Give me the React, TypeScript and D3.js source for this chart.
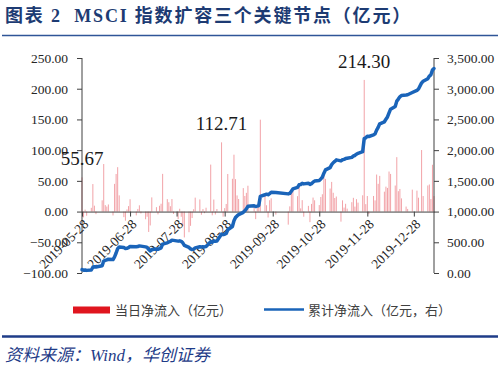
import React, { useEffect, useRef } from 'react';
import * as d3 from 'd3';

// trading days: weekdays between these dates minus Stock Connect holidays
const firstDay = '2019-05-28';
const lastDay = '2020-01-10';
const holidays = [
  '2019-06-07', '2019-07-01', '2019-09-13',
  '2019-10-01', '2019-10-02', '2019-10-03', '2019-10-04', '2019-10-07',
  '2019-12-25', '2019-12-26', '2020-01-01'
];

// daily northbound net inflow (亿元), one value per trading day, by month
const flowMay = [55.67, -9.4, 3.2, -6.8];
const flowJun = [6.1, 44.8, 9.6, -4.2, 18.3, 77.4, 10.5, 8.2, 11.6, -6.3, 45.1, 61.2, 72.3, 26.4, -9.1, -14.8, 3.5, 8.9, 20.1];
const flowJul = [-6.2, 4.3, 10.2, -3.1, -12.5, -8.4, -33.2, -22.6, 23.1, 7.2, -4.6, 9.5, 12.8, 61.4, 20.3, 15.2, 8.7, 20.4, -3.8, -12.3, 4.6, -8.5];
const flowAug = [-23.4, -42.1, -33.6, -23.2, -10.5, 3.8, 22.7, 19.8, -5.2, 4.1, -2.6, 6.3, 76.5, -6.1, 19.6, -4.8, 4.2, 112.71, -8.3, 5.6, 12.4, 61.2];
const flowSep = [53.4, 92.6, 52.8, 26.3, 20.5, 38.2, 25.4, 30.5, 42.1, 8.6, -12.3, 6.2, 10.4, 149.6, 25.2, 10.3, -9.6, 18.5, 21.6, -4.9];
const flowOct = [-21.3, 8.5, 34.2, 37.4, 25.1, 42.3, 5.2, 18.6, -8.4, 9.3, -17.2, 12.5, 22.8, 18.4, 10.6, 23.7, 28.2, 66.1];
const flowNov = [53.2, 37.5, 48.3, 30.6, 22.1, 24.5, -16.4, 18.3, 6.5, 12.7, 4.8, 15.3, 22.4, 8.1, 20.2, 14.6, 26.5, 214.30, 12.1, 25.3, -4.2];
const flowDec = [25.4, 18.2, 60.3, 45.2, 58.1, 32.4, 40.6, 38.5, 65.2, 61.3, 42.4, 88.6, 33.2, 36.8, 21.5, 8.2, 4.3, 35.7, 34.1, 22.6];
const flowJan = [100.2, 25.3, 42.5, 44.1, 20.4, 76.2, 25.3];

const leftTicks = [-100, -50, 0, 50, 100, 150, 200, 250];
const rightTicks = [0, 500, 1000, 1500, 2000, 2500, 3000, 3500];
const dateTicks = ['2019-05-28', '2019-06-28', '2019-07-28', '2019-08-28', '2019-09-28', '2019-10-28', '2019-11-28', '2019-12-28'];
const keyDays = ['2019-05-28', '2019-08-26', '2019-11-26'];

const titleText = '图表 2  MSCI 指数扩容三个关键节点（亿元）';
const legendLabels = ['当日净流入（亿元）', '累计净流入（亿元，右）'];
const sourceText = '资料来源：Wind，华创证券';

const W = 500, H = 368;
const serif = '"Liberation Serif", "Times New Roman", "Noto Sans CJK SC", serif';
const cjk = '"Noto Sans CJK SC", "Liberation Serif", sans-serif';

export default function App() {
  const ref = useRef<SVGSVGElement>(null);

  useEffect(() => {
    const svg = d3.select(ref.current);
    svg.selectAll('*').remove();

    const parse = d3.utcParse('%Y-%m-%d');
    const fmt = d3.utcFormat('%Y-%m-%d');
    const start = parse(firstDay)!, end = parse(lastDay)!;
    const days = d3.utcDays(start, d3.utcDay.offset(end, 1))
      .filter(d => d.getUTCDay() > 0 && d.getUTCDay() < 6 && !holidays.includes(fmt(d)));
    const daily = [...flowMay, ...flowJun, ...flowJul, ...flowAug, ...flowSep, ...flowOct, ...flowNov, ...flowDec, ...flowJan];
    const cum = Array.from(d3.cumsum(daily));
    const data = days.map((d, i) => ({ date: d, flow: daily[i], total: cum[i] }));

    const x = d3.scaleUtc().domain([start, end]).range([82, 434]);
    const yL = d3.scaleLinear().domain([-100, 250]).range([273, 58]);
    const yR = d3.scaleLinear().domain([0, 3500]).range([273, 58]);

    // title
    svg.append('text').attr('x', 5).attr('y', 22)
      .attr('font-family', serif).attr('font-weight', 'bold').attr('font-size', 18)
      .attr('letter-spacing', 1.8).attr('fill', '#1d3b73')
      .style('white-space', 'pre').text(titleText);
    svg.append('line').attr('x1', 2).attr('x2', 498).attr('y1', 35.5).attr('y2', 35.5)
      .attr('stroke', '#2f5597').attr('stroke-width', 1.5);

    // bars
    svg.append('g').selectAll('rect').data(data).enter().append('rect')
      .attr('x', d => x(d.date) - 0.5)
      .attr('width', 1)
      .attr('y', d => yL(Math.max(0, d.flow)))
      .attr('height', d => Math.abs(yL(d.flow) - yL(0)))
      .attr('fill', '#f2a3a8');

    // axes
    const gL = svg.append('g').attr('transform', 'translate(82,0)')
      .call(d3.axisLeft(yL).tickValues(leftTicks).tickFormat(d3.format('.2f')).tickSize(5).tickPadding(9));
    const gR = svg.append('g').attr('transform', 'translate(434,0)')
      .call(d3.axisRight(yR).tickValues(rightTicks).tickFormat(d3.format(',.2f')).tickSize(5).tickPadding(8));
    const gX = svg.append('g').attr('transform', `translate(0,${yL(0)})`)
      .call(d3.axisBottom(x).tickValues(dateTicks.map(s => parse(s)!)).tickFormat(() => '').tickSize(5).tickSizeOuter(0));
    [gL, gR, gX].forEach(g => {
      g.select('.domain').attr('stroke', '#404040');
      g.selectAll('.tick line').attr('stroke', '#404040');
      g.selectAll('text').attr('font-family', serif).attr('font-size', 13.5).attr('fill', '#262626');
    });
    gL.select('.domain').attr('d', 'M0,58V273');
    gR.select('.domain').attr('d', 'M0,58V273');

    svg.append('g').selectAll('text').data(dateTicks).enter().append('text')
      .attr('transform', s => `translate(${x(parse(s)!) + 4},${yL(0) + 10}) rotate(-45)`)
      .attr('text-anchor', 'end').attr('dy', '0.35em')
      .attr('font-family', serif).attr('font-size', 13.5).attr('fill', '#262626')
      .text(s => s);

    // cumulative line
    svg.append('path').datum(data)
      .attr('d', d3.line<typeof data[0]>().x(d => x(d.date)).y(d => yR(d.total)))
      .attr('fill', 'none').attr('stroke', '#1a64b9').attr('stroke-width', 3.5)
      .attr('stroke-linejoin', 'round').attr('stroke-linecap', 'round');

    // key point labels
    const keys = data.filter(d => keyDays.includes(fmt(d.date)));
    svg.append('g').selectAll('text').data(keys).enter().append('text')
      .attr('x', d => x(d.date)).attr('y', d => yL(d.flow) - 12)
      .attr('text-anchor', 'middle').attr('font-family', serif).attr('font-size', 19).attr('fill', '#1a1a1a')
      .text(d => d.flow.toFixed(2));

    // legend
    const lg = svg.append('g').attr('font-family', cjk).attr('font-size', 13).attr('fill', '#404040');
    lg.append('rect').attr('x', 73).attr('y', 306.5).attr('width', 37).attr('height', 7).attr('fill', '#e0151f');
    lg.append('text').attr('x', 115).attr('y', 314.5).text(legendLabels[0]);
    lg.append('line').attr('x1', 264).attr('x2', 304).attr('y1', 309.5).attr('y2', 309.5)
      .attr('stroke', '#1a64b9').attr('stroke-width', 2.5);
    lg.append('text').attr('x', 308).attr('y', 314.5).text(legendLabels[1]);

    // footer
    svg.append('line').attr('x1', 2).attr('x2', 498).attr('y1', 336.5).attr('y2', 336.5)
      .attr('stroke', '#1f3c88').attr('stroke-width', 2.5);
    svg.append('text').attr('x', 5).attr('y', 361)
      .attr('font-family', serif).attr('font-style', 'italic').attr('font-size', 17)
      .attr('fill', '#1f3c88').text(sourceText);
  }, []);

  return (
    <svg ref={ref} width={W} height={H}
      style={{ position: 'absolute', left: 0, top: 0, background: '#fff' }} />
  );
}
